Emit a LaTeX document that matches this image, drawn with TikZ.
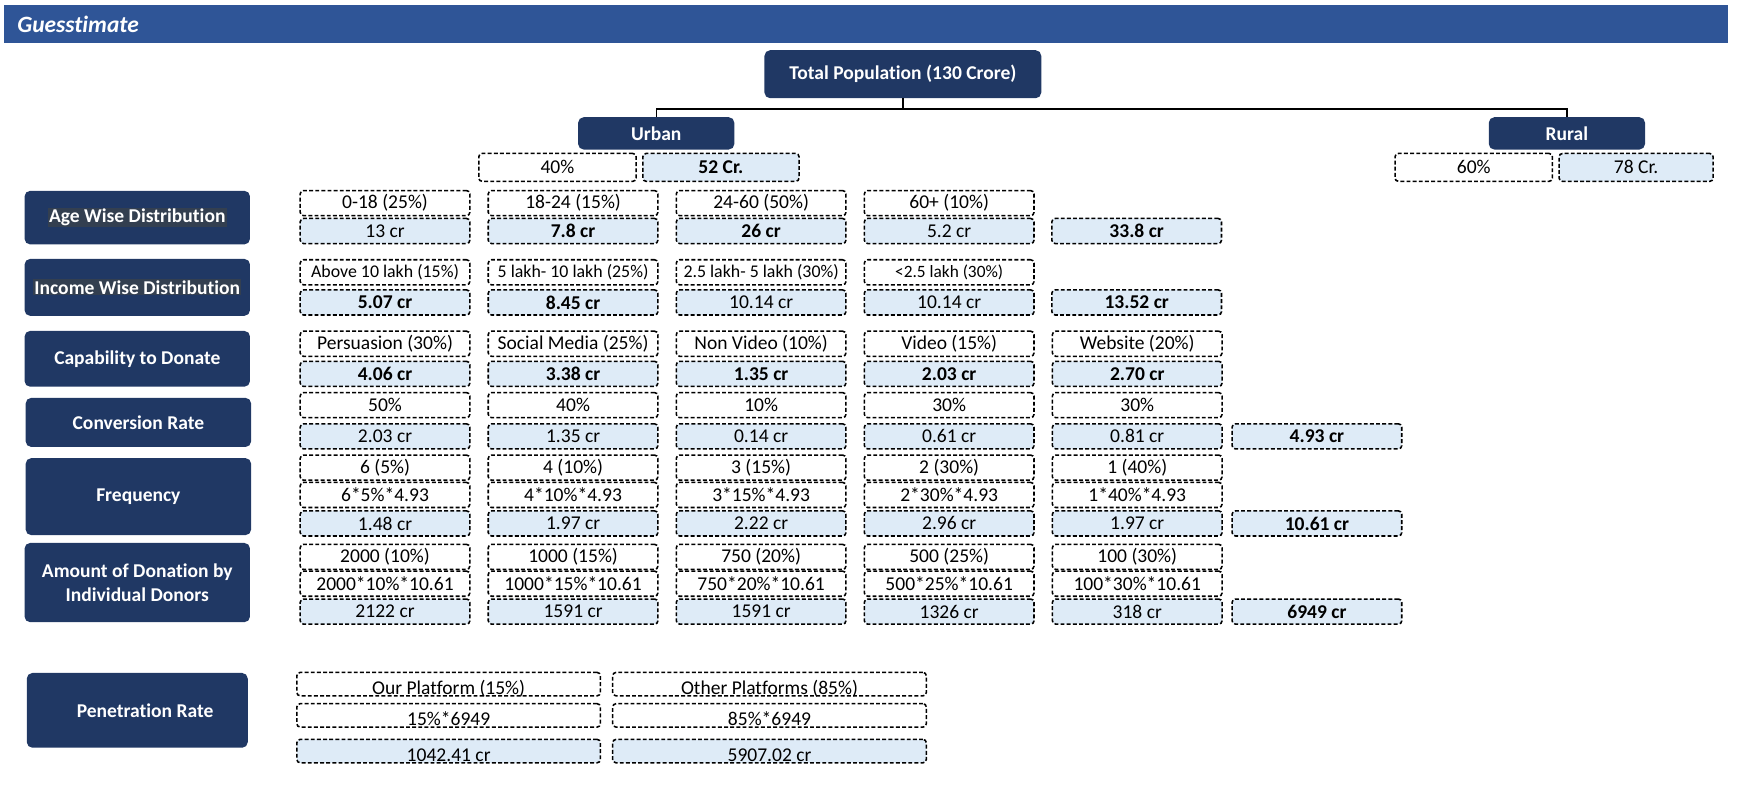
\documentclass[tikz,border=0pt]{standalone}
\usepackage{fontspec}
\setmainfont{Carlito}[Ligatures=NoCommon]
\usepackage{tikz}

\definecolor{barblue}{HTML}{2F5597}
\definecolor{navy}{HTML}{203864}
\definecolor{cellblue}{HTML}{DEEBF7}
\definecolor{hilite}{HTML}{333F50}

\newcommand{\cellfont}{\fontsize{17.5}{21}\selectfont}

\tikzset{
    head/.style={fill=navy, rounded corners=5pt, text=white, inner sep=0pt, font=\cellfont\bfseries},
    rowlabel/.style={head, minimum width=202pt, align=center},
    cell/.style={draw, dash pattern=on 3.5pt off 2pt, line width=1.4pt, rounded corners=3pt,
                 inner sep=0pt, minimum height=22.5pt, minimum width=152pt, font=\cellfont},
    val/.style={cell, fill=cellblue},
    lowtext/.style={text height=19pt, text depth=0pt},
}

\begin{document}
\begin{tikzpicture}[x=1pt, y=-1pt]
    \useasboundingbox (0,0) rectangle (1560,719.5);

    % Title bar
    \fill[barblue] (4,4.5) rectangle (1548,38.5);
    \node[anchor=west, text=white, font=\fontsize{21}{25}\selectfont\bfseries\itshape] (title) at (12,21.5) {Guesstimate};

    % Population split
    \node[head, minimum width=248pt, minimum height=43pt] (total) at (809,66.5) {Total Population (130 Crore)};
    \node[head, minimum width=140pt, minimum height=29pt] (urban) at (588,119.5) {Urban};
    \node[head, minimum width=140pt, minimum height=29pt] (rural) at (1404,119.5) {Rural};
    \draw[line width=1.3pt] (total.south) -- ++(0,9.5) -| (urban.north);
    \draw[line width=1.3pt] (total.south) -- ++(0,9.5) -| (rural.north);

    \node[cell, minimum width=141pt, minimum height=25pt] (urban-p) at (499.5,150) {40\%};
    \node[val, minimum width=140pt, minimum height=25pt] (urban-v) at (646,150) {\textbf{52 Cr.}};
    \node[cell, minimum width=141pt, minimum height=25pt] (rural-p) at (1320.5,150) {60\%};
    \node[val, minimum width=138pt, minimum height=25pt] (rural-v) at (1466,150) {78 Cr.};

    % Age wise distribution
    \node[rowlabel, minimum height=48pt] (age) at (123,195) {\setlength{\fboxsep}{1pt}\colorbox{hilite}{Age Wise Distribution}};
    \foreach \t/\v [count=\i] in {0-18 (25\%)/13 cr, 18-24 (15\%)/\textbf{7.8 cr}, 24-60 (50\%)/\textbf{26 cr}, 60+ (10\%)/5.2 cr}{
        \node[cell] (age-t\i) at ({345+168.5*(\i-1)},182) {\t};
        \node[val] (age-v\i) at ({345+168.5*(\i-1)},207) {\v};
    }
    \node[val] (age-v5) at (1018.5,207) {\textbf{33.8 cr}};

    % Income wise distribution
    \node[rowlabel, minimum height=51pt] (income) at (123,257.5) {\setlength{\fboxsep}{1pt}\colorbox{hilite}{Income Wise Distribution}};
    \foreach \t/\v [count=\i] in {Above 10 lakh (15\%)/\textbf{5.07 cr}, 5 lakh- 10 lakh (25\%)/\textbf{8.45 cr}, 2.5 lakh- 5 lakh (30\%)/10.14 cr, {\fontsize{15.5}{18}\selectfont<2.5 lakh (30\%)}/10.14 cr}{
        \node[cell, font=\fontsize{16}{19}\selectfont] (inc-t\i) at ({345+168.5*(\i-1)},244) {\t};
        \node[val] (inc-v\i) at ({345+168.5*(\i-1)},271) {\v};
    }
    \node[val] (inc-v5) at (1018.5,271) {\textbf{13.52 cr}};

    % Capability to donate
    \node[rowlabel, minimum height=50pt] (capab) at (123,321.5) {Capability to Donate};
    \foreach \t/\v [count=\i] in {Persuasion (30\%)/4.06 cr, Social Media (25\%)/3.38 cr, Non Video (10\%)/1.35 cr, Video (15\%)/2.03 cr, Website (20\%)/2.70 cr}{
        \node[cell] (cap-t\i) at ({345+168.5*(\i-1)},308) {\t};
        \node[val] (cap-v\i) at ({345+168.5*(\i-1)},335) {\textbf{\v}};
    }

    % Conversion rate
    \node[rowlabel, minimum height=44pt] (conv) at (124,378.5) {Conversion Rate};
    \foreach \t/\v [count=\i] in {50\%/2.03 cr, 40\%/1.35 cr, 10\%/0.14 cr, 30\%/0.61 cr, 30\%/0.81 cr}{
        \node[cell] (conv-t\i) at ({345+168.5*(\i-1)},363) {\t};
        \node[val] (conv-v\i) at ({345+168.5*(\i-1)},391) {\v};
    }
    \node[val] (conv-v6) at (1180,391) {\textbf{4.93 cr}};

    % Frequency
    \node[rowlabel, minimum height=69pt] (freq) at (124,445) {Frequency};
    \foreach \t/\m/\v [count=\i] in {6 (5\%)/6*5\%*4.93/1.48 cr, 4 (10\%)/4*10\%*4.93/1.97 cr, 3 (15\%)/3*15\%*4.93/2.22 cr,
                                     2 (30\%)/2*30\%*4.93/2.96 cr, 1 (40\%)/1*40\%*4.93/1.97 cr}{
        \node[cell] (freq-t\i) at ({345+168.5*(\i-1)},419) {\t};
        \node[cell] (freq-m\i) at ({345+168.5*(\i-1)},443.5) {\m};
        \node[val] (freq-v\i) at ({345+168.5*(\i-1)},469) {\v};
    }
    \node[val] (freq-v6) at (1180,469) {\textbf{10.61 cr}};

    % Amount of donation
    \node[rowlabel, minimum height=71pt] (amount) at (123,522) {Amount of Donation by\\Individual Donors};
    \foreach \t/\m/\v [count=\i] in {2000 (10\%)/2000*10\%*10.61/2122 cr, 1000 (15\%)/1000*15\%*10.61/1591 cr, 750 (20\%)/750*20\%*10.61/1591 cr,
                                     500 (25\%)/500*25\%*10.61/1326 cr, 100 (30\%)/100*30\%*10.61/318 cr}{
        \node[cell] (amt-t\i) at ({345+168.5*(\i-1)},499) {\t};
        \node[cell] (amt-m\i) at ({345+168.5*(\i-1)},523) {\m};
        \node[val] (amt-v\i) at ({345+168.5*(\i-1)},548) {\v};
    }
    \node[val] (amt-v6) at (1180,548) {\textbf{6949 cr}};

    % Penetration rate
    \node[rowlabel, minimum width=198pt, minimum height=67pt] (pen) at (123,636.5) {\hspace*{14pt}Penetration Rate};
    \node[cell, lowtext, minimum width=272pt, minimum height=21pt] (our-t) at (402,613) {Our Platform (15\%)};
    \node[cell, lowtext, minimum width=272pt, minimum height=21pt] (our-m) at (402,641) {15\%*6949};
    \node[val, lowtext, minimum width=272pt, minimum height=21pt] (our-v) at (402,673) {1042.41 cr};
    \node[cell, lowtext, minimum width=281pt, minimum height=21pt] (oth-t) at (689.5,613) {Other Platforms (85\%)};
    \node[cell, lowtext, minimum width=281pt, minimum height=21pt] (oth-m) at (689.5,641) {85\%*6949};
    \node[val, lowtext, minimum width=281pt, minimum height=21pt] (oth-v) at (689.5,673) {5907.02 cr};
\end{tikzpicture}
\end{document}
